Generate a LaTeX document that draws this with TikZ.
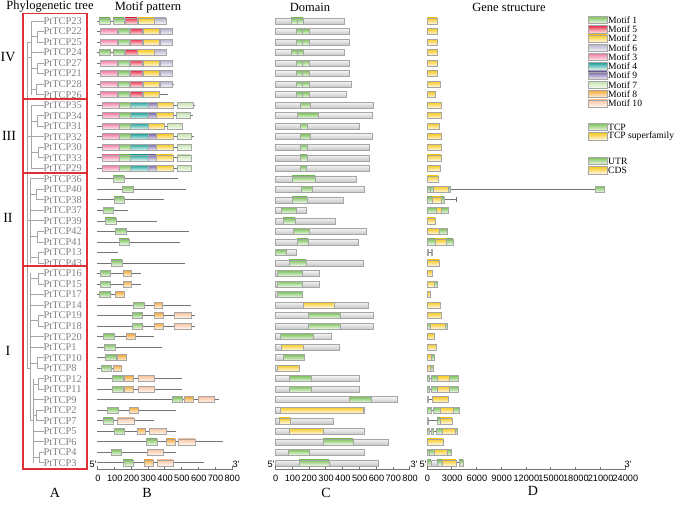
\documentclass[tikz,border=0pt]{standalone}
\usepackage{fontspec}
\setmainfont{Liberation Serif}
\newfontfamily\axf{Liberation Sans}
\definecolor{cMa}{HTML}{7CC25A}
\definecolor{cMe}{HTML}{E8304A}
\definecolor{cMb}{HTML}{F7C81E}
\definecolor{cMf}{HTML}{B4B0CC}
\definecolor{cMc}{HTML}{F07AA0}
\definecolor{cMd}{HTML}{1FA39A}
\definecolor{cMi}{HTML}{7A68AA}
\definecolor{cMg}{HTML}{C5E4AE}
\definecolor{cMh}{HTML}{F5A93A}
\definecolor{cMj}{HTML}{FAC29E}
\definecolor{boxred}{RGB}{220,50,55}
\newcommand\Yr[1]{21+10.52*(#1)}
\newcommand\MB[4]{\path[#4] (#2,{\Yr{#1}-3}) rectangle (#3,{\Yr{#1}+3});}
\newcommand\ML[3]{\draw[mline] (#2,{\Yr{#1}}) -- (#3,{\Yr{#1}});}
\newcommand\TrV[3]{\draw[tr] (#1,{\Yr{#2}}) -- (#1,{\Yr{#3}});}
\newcommand\TrH[3]{\draw[tr] (#1,{\Yr{#3}}) -- (#2,{\Yr{#3}});}
\newcommand\TrL[2]{\draw[tr] (#1,{\Yr{#2}}) -- (43.5,{\Yr{#2}});}
\newcommand\IVp[2]{\ML{#1}{97}{#2}\MB{#1}{100}{117}{m3}\MB{#1}{118}{129}{m1}\MB{#1}{130}{142}{m5}\MB{#1}{143}{159}{m2}\MB{#1}{160}{172}{m6}}
\newcommand\IIIp[2]{\ML{#1}{97}{#2}\MB{#1}{102}{119}{m3}\MB{#1}{119}{130}{m1}\MB{#1}{130}{148}{m4}\MB{#1}{148}{156}{m9}\MB{#1}{156}{173}{m2}\MB{#1}{177}{191}{m7}}
\newcommand\DB[5]{\MB{#1}{275}{#2}{dbar}\MB{#1}{#3}{#4}{#5}}
\begin{document}
\begin{tikzpicture}[x=1pt,y=-1pt,
  mk/.style={draw=black!35, line width=0.45, top color=#1, bottom color=#1!12},
  m1/.style={mk=cMa}, m5/.style={mk=cMe}, m2/.style={mk=cMb}, m6/.style={mk=cMf},
  m3/.style={mk=cMc}, m4/.style={mk=cMd}, m9/.style={mk=cMi}, m7/.style={mk=cMg},
  m8/.style={mk=cMh}, m10/.style={mk=cMj},
  dbar/.style={draw=black!35, line width=0.45, top color=black!4, bottom color=black!22},
  dg/.style={mk=cMa}, dy/.style={mk=cMb},
  gy/.style={mk=cMb}, gg/.style={mk=cMa},
  mline/.style={draw=black!55, line width=0.75},
  tr/.style={draw=black!35, line width=0.8},
  rbox/.style={draw=boxred, line width=1.1},
  glab/.style={text=black!50, font=\fontsize{10.4}{10.4}\selectfont, inner sep=0pt, anchor=west},
  ttl/.style={font=\fontsize{12.5}{12.5}\selectfont, inner sep=0pt},
  grp/.style={font=\fontsize{14}{14}\selectfont, inner sep=0pt},
  pan/.style={font=\fontsize{14}{14}\selectfont, inner sep=0pt},
  axl/.style={draw=black!55, line width=0.6},
  axt/.style={font=\axf\fontsize{9.2}{9.2}\selectfont, inner sep=0pt},
  leg/.style={font=\fontsize{9.6}{9.6}\selectfont, inner sep=0pt, anchor=west}]
\useasboundingbox (0,0) rectangle (685,505);
% titles
\node[ttl] (t1) at (50,7) {Phylogenetic tree};
\node[ttl] (t2) at (148,7) {Motif pattern};
\node[ttl] (t3) at (310,7) {Domain};
\node[ttl] (t4) at (509,7) {Gene structure};
% gene labels
\foreach \n [count=\i from 0] in {23,22,25,24,27,21,28,26,35,34,31,32,30,33,29,36,40,38,37,39,42,41,13,43,16,15,17,14,19,18,20,1,10,8,12,11,9,2,7,5,6,4,3}
  \node[glab] (p\n) at (43.5,{\Yr{\i}}) {PtTCP\n};
% tree
\TrV{27}{2}{33}
\TrH{27}{31}{3.5}\TrH{27}{31}{11}\TrH{27}{30}{19}\TrH{27}{30}{33}\TrH{27}{31}{2}
\TrV{31}{0}{7}\TrL{31}{0}\TrL{31}{3}
\TrH{31}{37}{1.5}\TrV{37}{1}{2}\TrL{37}{1}\TrL{37}{2}
\TrH{31}{37}{4.5}\TrV{37}{4}{5}\TrL{37}{4}\TrL{37}{5}
\TrH{31}{36}{6.5}\TrV{36}{6}{7}\TrL{36}{6}\TrL{36}{7}
\TrV{31}{8}{14}\TrL{31}{8}\TrL{31}{11}\TrL{31}{14}
\TrH{31}{37}{9.5}\TrV{37}{9}{10}\TrL{37}{9}\TrL{37}{10}
\TrH{31}{38}{12.5}\TrV{38}{12}{13}\TrL{38}{12}\TrL{38}{13}
\TrV{30}{15}{23}\TrL{30}{15}\TrL{30}{18}\TrL{30}{19}
\TrH{30}{36}{16.5}\TrV{36}{16}{17}\TrL{36}{16}\TrL{36}{17}
\TrH{30}{37}{20.5}\TrV{37}{20}{21}\TrL{37}{20}\TrL{37}{21}
\TrH{30}{38}{22.5}\TrV{38}{22}{23}\TrL{38}{22}\TrL{38}{23}
\TrV{30}{24}{38}\TrL{30}{26}\TrL{30}{27}\TrL{30}{30}\TrL{30}{31}
\TrH{30}{38}{24.5}\TrV{38}{24}{25}\TrL{38}{24}\TrL{38}{25}
\TrH{30}{38}{28.5}\TrV{38}{28}{29}\TrL{38}{28}\TrL{38}{29}
\TrH{30}{37}{32.5}\TrV{37}{32}{33}\TrL{37}{32}\TrL{37}{33}
\TrH{30}{33}{38}\TrV{33}{34}{42}\TrL{33}{36}\TrL{33}{39}\TrL{33}{40}
\TrH{33}{38}{34.5}\TrV{38}{34}{35}\TrL{38}{34}\TrL{38}{35}
\TrH{33}{36}{37.5}\TrV{36}{37}{38}\TrL{36}{37}\TrL{36}{38}
\TrH{33}{39}{41.5}\TrV{39}{41}{42}\TrL{39}{41}\TrL{39}{42}
% red group boxes
\draw[rbox] (23,13.5) -- (87,13.5) -- (87,469) -- (23,469) -- cycle;
\draw[rbox] (23,99) -- (87,99);
\draw[rbox] (23,173) -- (87,173);
\draw[rbox] (23,266) -- (87,266);
\node[grp] (gIV) at (8,57) {IV};
\node[grp] (gIII) at (9,136) {III};
\node[grp] (gII) at (8,218) {II};
\node[grp] (gI) at (8,350.5) {I};
% ===== Motif pattern =====
\ML{0}{97}{166}\MB{0}{99}{110}{m1}\MB{0}{113}{124}{m1}\MB{0}{125}{137}{m5}\MB{0}{138}{154}{m2}\MB{0}{154}{166}{m6}
\IVp{1}{172}\IVp{2}{172}
\ML{3}{97}{166}\MB{3}{99}{110}{m1}\MB{3}{113}{124}{m1}\MB{3}{125}{137}{m5}\MB{3}{137}{154}{m2}\MB{3}{154}{166}{m6}
\IVp{4}{172}\IVp{5}{172}\IVp{6}{174}
\ML{7}{97}{168}\MB{7}{100}{117}{m3}\MB{7}{118}{129}{m1}\MB{7}{130}{142}{m5}\MB{7}{143}{159}{m2}
\ML{8}{97}{195}\MB{8}{102}{119}{m3}\MB{8}{119}{130}{m1}\MB{8}{130}{148}{m4}\MB{8}{148}{157}{m9}\MB{8}{157}{173}{m2}\MB{8}{177}{193}{m7}
\ML{9}{97}{193}\MB{9}{102}{119}{m3}\MB{9}{119}{130}{m1}\MB{9}{130}{148}{m4}\MB{9}{148}{156}{m9}\MB{9}{156}{173}{m2}\MB{9}{176}{190}{m7}
\ML{10}{97}{182}\MB{10}{102}{119}{m3}\MB{10}{119}{130}{m1}\MB{10}{130}{148}{m4}\MB{10}{148}{164}{m2}\MB{10}{167}{182}{m7}
\IIIp{11}{194}\IIIp{12}{191}\IIIp{13}{191}\IIIp{14}{191}
\ML{15}{97}{178}\MB{15}{113}{124}{m1}
\ML{16}{97}{186}\MB{16}{122}{133}{m1}
\ML{17}{97}{164}\MB{17}{114}{124}{m1}
\ML{18}{97}{128}\MB{18}{103}{113}{m1}
\ML{19}{97}{157}\MB{19}{105}{116}{m1}
\ML{20}{97}{189}\MB{20}{115}{126}{m1}
\ML{21}{97}{180}\MB{21}{119}{129}{m1}
\ML{22}{97}{118}
\ML{23}{97}{185}\MB{23}{111}{122}{m1}
\ML{24}{97}{141}\MB{24}{100}{110}{m1}\MB{24}{123}{131}{m8}
\ML{25}{97}{141}\MB{25}{100}{110}{m1}\MB{25}{123}{131}{m8}
\ML{26}{97}{124}\MB{26}{99}{110}{m1}\MB{26}{115}{124}{m8}
\ML{27}{97}{191}\MB{27}{133}{144}{m1}\MB{27}{154}{162}{m8}
\ML{28}{97}{195}\MB{28}{132}{142}{m1}\MB{28}{154}{163}{m8}\MB{28}{174}{191}{m10}
\ML{29}{97}{195}\MB{29}{132}{142}{m1}\MB{29}{154}{163}{m8}\MB{29}{174}{191}{m10}
\ML{30}{97}{154}\MB{30}{103}{114}{m1}\MB{30}{126}{135}{m8}
\ML{31}{97}{162}\MB{31}{104}{115}{m1}
\ML{32}{97}{126}\MB{32}{105}{116}{m1}\MB{32}{117}{126}{m8}
\ML{33}{97}{121}\MB{33}{101}{111}{m1}\MB{33}{113}{121}{m8}
\ML{34}{97}{182}\MB{34}{112}{123}{m1}\MB{34}{124}{133}{m8}\MB{34}{138}{154}{m10}
\ML{35}{97}{182}\MB{35}{112}{123}{m1}\MB{35}{124}{133}{m8}\MB{35}{138}{154}{m10}
\ML{36}{97}{219}\MB{36}{172}{182}{m1}\MB{36}{184}{193}{m8}\MB{36}{198}{214}{m10}
\ML{37}{97}{176}\MB{37}{107}{118}{m1}\MB{37}{129}{138}{m8}
\ML{38}{97}{154}\MB{38}{103}{113}{m1}\MB{38}{117}{134}{m10}
\ML{39}{97}{176}\MB{39}{114}{124}{m1}\MB{39}{137}{145}{m8}\MB{39}{149}{166}{m10}
\ML{40}{97}{223}\MB{40}{146}{157}{m1}\MB{40}{166}{175}{m8}\MB{40}{178}{195}{m10}
\ML{41}{97}{176}\MB{41}{111}{121}{m1}\MB{41}{147}{163}{m10}
\ML{42}{97}{204}\MB{42}{123}{133}{m1}\MB{42}{144}{153}{m8}\MB{42}{157}{173}{m10}
% ===== Domain =====
\DB{0}{344}{291}{303}{dg}\DB{1}{349}{296}{309}{dg}\DB{2}{349}{296}{309}{dg}\DB{3}{344}{291}{303}{dg}
\DB{4}{349}{296}{309}{dg}\DB{5}{349}{296}{309}{dg}\DB{6}{351}{296}{309}{dg}\DB{7}{346}{296}{309}{dg}
\foreach \r/\s in {0/297,3/297,1/302,2/302,4/302,5/302,6/302,7/302,9/302}
  \draw[draw=black!35, line width=0.45] (\s,{\Yr{\r}-3}) -- (\s,{\Yr{\r}+3});
\DB{8}{373}{300}{310}{dg}\DB{9}{372}{297}{318}{dg}\DB{10}{359}{300}{307}{dg}\DB{11}{372}{300}{310}{dg}
\DB{12}{369}{300}{307}{dg}\DB{13}{369}{300}{307}{dg}\DB{14}{369}{300}{306}{dg}
\DB{15}{356}{292}{315}{dg}\DB{16}{364}{301}{312}{dg}\DB{17}{343}{292}{307}{dg}\DB{18}{306}{281}{296}{dg}
\DB{19}{335}{283}{295}{dg}\DB{20}{366}{293}{309}{dg}\DB{21}{358}{297}{308}{dg}\DB{22}{296}{275}{286}{dg}
\DB{23}{363}{289}{306}{dg}\DB{24}{319}{277}{302}{dg}\DB{25}{319}{277}{302}{dg}\DB{26}{302}{277}{302}{dg}
\DB{27}{368}{303}{334}{dy}\DB{28}{373}{308}{340}{dg}\DB{29}{373}{308}{340}{dg}\DB{30}{331}{280}{313}{dg}
\DB{31}{339}{281}{303}{dy}\DB{32}{304}{283}{304}{dg}\DB{33}{299}{277}{299}{dy}\DB{34}{359}{289}{311}{dg}
\DB{35}{359}{289}{311}{dg}\DB{36}{397}{349}{371}{dg}\DB{37}{364}{280}{363}{dy}\DB{38}{333}{279}{290}{dy}
\DB{39}{364}{289}{323}{dy}\DB{40}{388}{323}{353}{dg}\DB{41}{364}{288}{309}{dg}\DB{42}{378}{299}{329}{dg}
% ===== Gene structure =====
\foreach \r/\e in {0/437,1/437,2/437,3/437.5,4/437,5/437,6/440,7/435,8/441,9/441,10/439,11/441,12/441,13/441,14/440,15/438,19/435,23/439,24/432,26/430,27/440,28/441,30/434,31/436,40/443}
  \MB{\r}{427}{\e}{gy}
\ML{16}{450}{595}\MB{16}{427}{430}{gg}\MB{16}{430}{433}{gg}\MB{16}{433}{448}{gy}\MB{16}{448}{450}{gg}\MB{16}{595}{604}{gg}
\ML{17}{444}{456}\draw[mline] (456,{\Yr{17}-2.5}) -- (456,{\Yr{17}+2.5});
\MB{17}{427}{432}{gg}\MB{17}{432}{441}{gy}\MB{17}{441}{444}{gg}
\MB{18}{427}{436}{gg}\MB{18}{436}{441}{gy}\MB{18}{441}{448}{gg}
\MB{20}{427}{439}{gy}\MB{20}{439}{447}{gg}
\MB{21}{427}{435}{gg}\MB{21}{435}{446}{gy}\MB{21}{446}{453}{gg}
\ML{22}{428}{431}\MB{22}{427}{428.5}{gy}\MB{22}{431}{432.5}{gg}
\MB{25}{427}{434}{gy}\MB{25}{434}{437}{gg}
\MB{29}{427}{430}{gg}\MB{29}{430}{445}{gy}\MB{29}{445}{447}{gg}
\MB{32}{427}{431}{gy}\MB{32}{431}{434}{gg}
\MB{33}{427}{430}{gy}\MB{33}{430.5}{433}{gg}
\foreach \r in {34,35}{\ML{\r}{429}{431}\MB{\r}{427}{429}{gg}\MB{\r}{431}{437}{gg}\MB{\r}{437}{449}{gy}\MB{\r}{449}{458}{gg}}
\ML{36}{428}{432}\MB{36}{427}{428}{gy}\MB{36}{432}{448}{gy}
\ML{37}{431}{433}\MB{37}{427}{431}{gg}\MB{37}{433}{440}{gg}\MB{37}{440}{453}{gy}\MB{37}{453}{459}{gg}
\ML{38}{428}{437}\MB{38}{427}{428}{gg}\MB{38}{437}{440}{gg}\MB{38}{440}{452}{gy}
\ML{39}{429}{436}\MB{39}{427}{429}{gg}\MB{39}{431}{433}{gg}\MB{39}{436}{442}{gg}\MB{39}{442}{455}{gy}\MB{39}{455}{457}{gg}
\MB{41}{427}{429}{gg}\MB{41}{429}{434}{gg}\MB{41}{434}{447}{gy}\MB{41}{447}{451}{gg}
\ML{42}{456}{459}\MB{42}{427}{431}{gg}\MB{42}{431}{437}{dbar}\MB{42}{437}{442}{gg}\MB{42}{442}{456}{gy}\MB{42}{459}{463}{gg}
% ===== axes =====
\draw[axl] (97.5,466) -- (97.5,469) -- (232,469) -- (232,466);
\draw[axl] (275.3,466) -- (275.3,469) -- (409.7,469) -- (409.7,466);
\draw[axl] (427,466) -- (427,469) -- (625,469) -- (625,466);
\foreach \v/\t in {0/0,1/100,2/200,3/300,4/400,5/500,6/600,7/700,8/800}{
  \draw[axl] ({97.5+16.8*\v},469) -- ++(0,-2);
  \draw[axl] ({275.3+16.8*\v},469) -- ++(0,-2);
  \node[axt] at ({97.9+16.8*\v},478.5) {\t};
  \node[axt] at ({275.7+16.8*\v},478.5) {\t};}
\foreach \v/\t in {0/0,1/3000,2/6000,3/9000,4/12000,5/15000,6/18000,7/21000,8/24000}{
  \draw[axl] ({427+24.75*\v},469) -- ++(0,-2);
  \node[axt] at ({427.4+24.75*\v},478.5) {\t};}
\node[axt] (f1) at (93,464) {5'};
\node[axt] (e1) at (236,464) {3'};
\node[axt] (f2) at (271,464) {5'};
\node[axt] (e2) at (414,464) {3'};
\node[axt] (f3) at (423,464) {5'};
\node[axt] (e3) at (628,464) {3'};
\node[pan] (A) at (55,493) {A};
\node[pan] (B) at (147,493) {B};
\node[pan] (C) at (326,493) {C};
\node[pan] (D) at (533,491) {D};
% ===== legend =====
\foreach \s/\t [count=\k from 0] in {m1/Motif 1,m5/Motif 5,m2/Motif 2,m6/Motif 6,m3/Motif 3,m4/Motif 4,m9/Motif 9,m7/Motif 7,m8/Motif 8,m10/Motif 10}{
  \path[\s] (588,{20+9.26*\k-3.6}) rectangle (607,{20+9.26*\k+3.6});
  \node[leg] at (608,{20+9.26*\k}) {\t};}
\foreach \s/\t/\yy in {dg/TCP/127,dy/TCP superfamily/136.3,gg/UTR/161,gy/CDS/170.3}{
  \path[\s] (588,{\yy-3.6}) rectangle (607,{\yy+3.6});
  \node[leg] at (608,\yy) {\t};}
\end{tikzpicture}
\end{document}
